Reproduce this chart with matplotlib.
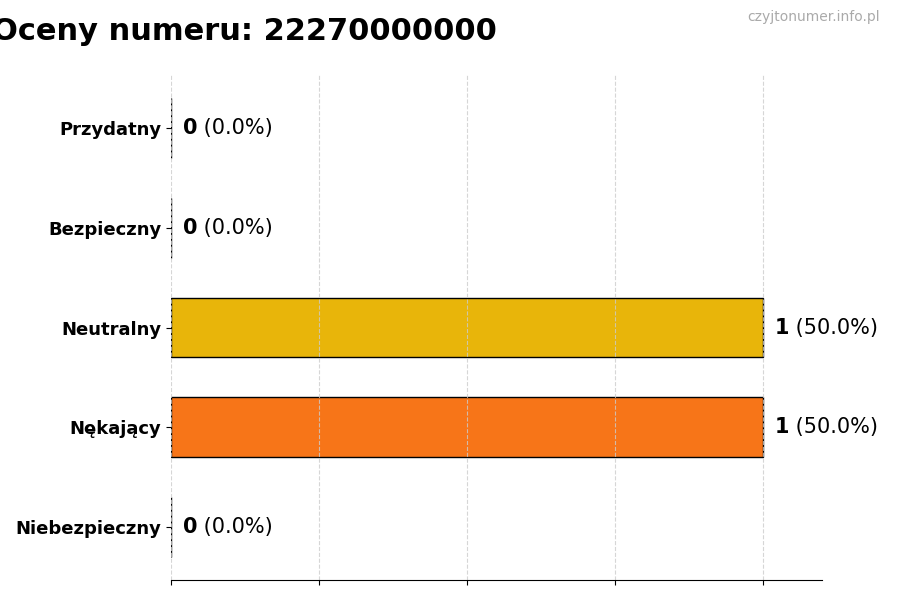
import matplotlib.pyplot as plt
import numpy as np

categories = ["Niebezpieczny", "Nękający", "Neutralny", "Bezpieczny", "Przydatny"]
counts = [0, 1, 1, 0, 0]
colors = ["#d62728", "#f77518", "#e8b50a", "#8bc34a", "#2e9d3a"]
phone = "22270000000"

total = sum(counts)
percents = [100.0 * c / total if total else 0.0 for c in counts]

fig = plt.figure(figsize=(9, 6), dpi=100)
ax = fig.add_axes([0.19, 0.0333, 0.7233, 0.8417])

y = np.arange(len(categories))
ax.barh(y, counts, height=0.6, color=colors, edgecolor="black", linewidth=1)
ax.set_xlim(0, 1.1)
ax.set_yticks(y)
ax.set_yticklabels(categories, fontsize=13, fontweight="bold")
ax.set_xticks([0, 0.25, 0.5, 0.75, 1.0])
ax.set_xticklabels([])
ax.grid(axis="x", linestyle="--", color="#cccccc", alpha=0.8, linewidth=0.8)
for side in ("top", "right", "left"):
    ax.spines[side].set_visible(False)

for yi, c, p in zip(y, counts, percents):
    t = ax.text(c + 0.02, yi, str(c), fontsize=15, fontweight="bold",
                va="center", ha="left")
    ax.annotate(f" ({p:.1f}%)", xy=(1, 0), xycoords=t, fontsize=15,
                va="bottom", ha="left")

fig.text(0.272, 0.948, f"Oceny numeru: {phone}", fontsize=22,
         fontweight="bold", ha="center", va="center")
fig.text(0.978, 0.971, "czyjtonumer.info.pl", fontsize=10, color="#aaaaaa",
         ha="right", va="center")

fig.savefig("out.png", dpi=100)
